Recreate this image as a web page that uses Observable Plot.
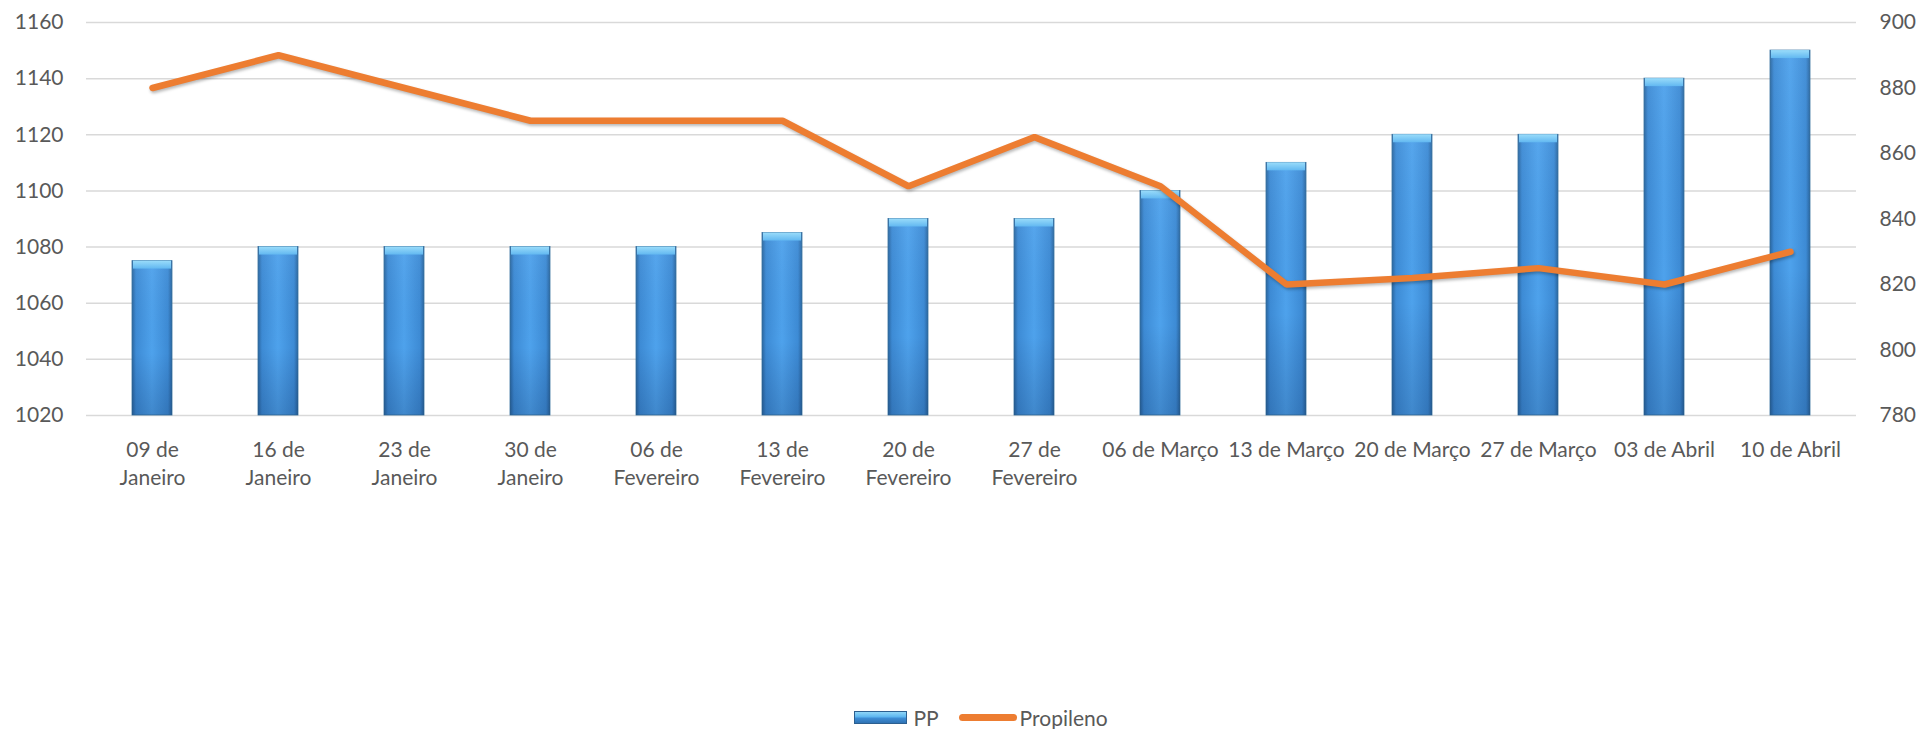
<!DOCTYPE html>
<html>
<head>
<meta charset="utf-8">
<script src="https://cdn.jsdelivr.net/npm/d3@7"></script>
<script src="https://cdn.jsdelivr.net/npm/@observablehq/plot@0.6"></script>
<style>
  html, body { margin: 0; padding: 0; background: #fff; overflow: hidden; }
  body { width: 1918px; height: 729px; font-family: Lato, "Open Sans", sans-serif; }
  #legend { height: 29px; display: flex; align-items: center; justify-content: center; padding-left: 44px;
    font-size: 21px; color: #595959; font-family: Lato, sans-serif; margin-top: 3px; }
  .sw-bar { width: 53px; height: 13px; border: 1px solid #2c5f90; box-sizing: border-box;
    background: linear-gradient(to bottom, #8fd6f8 0%, #5cb5ef 45%, #3f8ed6 55%, #2f73b4 100%); margin-right: 6px; }
  .sw-line { width: 58px; height: 7px; border-radius: 4px; background: #ED7D31; margin-right: 3px; margin-left: 20px; }
  g[aria-label="line"] path { filter: drop-shadow(1px 2px 1.5px rgba(0,0,0,0.28)); }
</style>
</head>
<body>
<div id="chart"></div>
<div id="legend"><div class="sw-bar"></div><span>PP</span><div class="sw-line"></div><span>Propileno</span></div>
<script>
const categories = ["09 de Janeiro", "16 de Janeiro", "23 de Janeiro", "30 de Janeiro", "06 de Fevereiro", "13 de Fevereiro", "20 de Fevereiro", "27 de Fevereiro", "06 de Março", "13 de Março", "20 de Março", "27 de Março", "03 de Abril", "10 de Abril"];
const ppValues = [1075, 1080, 1080, 1080, 1080, 1085, 1090, 1090, 1100, 1110, 1120, 1120, 1140, 1150];
const propilenoValues = [880, 890, 880, 870, 870, 870, 850, 865, 850, 820, 822, 825, 820, 830];
const leftTicks = [1020, 1040, 1060, 1080, 1100, 1120, 1140, 1160];
const rightTicks = [780, 800, 820, 840, 860, 880, 900];

const leftDomain = [1020, 1160];
const rightDomain = [780, 900];
const toLeft = v => leftDomain[0] + (v - rightDomain[0]) * (leftDomain[1] - leftDomain[0]) / (rightDomain[1] - rightDomain[0]);
const toRight = v => rightDomain[0] + (v - leftDomain[0]) * (rightDomain[1] - rightDomain[0]) / (leftDomain[1] - leftDomain[0]);

const pp = categories.map((c, i) => ({cat: c, v: ppValues[i]}));
const prop = categories.map((c, i) => ({cat: c, v: toLeft(propilenoValues[i])}));

const wrap = s => s.length > 12 ? s.replace(/^(\S+ de) /, "$1\n") : s;

const defs = () => {
  const d = d3.create("svg:defs");
  const g1 = d.append("linearGradient").attr("id", "barH").attr("x1", 0).attr("x2", 1).attr("y1", 0).attr("y2", 0);
  [[0, "#2a66a0"], [0.1, "#3d8bd5"], [0.5, "#4ea2ec"], [0.9, "#3d8bd5"], [1, "#2a66a0"]]
    .forEach(([o, c]) => g1.append("stop").attr("offset", o).attr("stop-color", c));
  const g2 = d.append("linearGradient").attr("id", "barV").attr("x1", 0).attr("x2", 0).attr("y1", 0).attr("y2", 1);
  [[0, "rgba(255,255,255,0.05)"], [0.6, "rgba(0,0,40,0)"], [1, "rgba(0,20,60,0.18)"]]
    .forEach(([o, c]) => g2.append("stop").attr("offset", o).attr("stop-color", c));
  const g3 = d.append("linearGradient").attr("id", "cap").attr("x1", 0).attr("x2", 0).attr("y1", 0).attr("y2", 1);
  [[0, "#9adcfa"], [1, "#62b8f1"]]
    .forEach(([o, c]) => g3.append("stop").attr("offset", o).attr("stop-color", c));
  return d.node();
};

const chart = Plot.plot({
  width: 1918,
  height: 700,
  marginLeft: 86,
  marginRight: 62,
  marginTop: 22,
  marginBottom: 285,
  style: {fontFamily: "Lato, sans-serif", fontSize: "21px", color: "#595959", background: "#fff"},
  x: {domain: categories, paddingInner: 0.685, paddingOuter: 0.3425, label: null},
  y: {domain: leftDomain, label: null},
  marks: [
    defs,
    Plot.ruleY(leftTicks, {stroke: "#d9d9d9", strokeWidth: 1.5}),
    Plot.barY(pp, {x: "cat", y1: leftDomain[0], y2: "v", fill: "url(#barH)", stroke: "#35709f", strokeWidth: 0.8}),
    Plot.barY(pp, {x: "cat", y1: leftDomain[0], y2: "v", fill: "url(#barV)"}),
    Plot.barY(pp, {x: "cat", y1: "v", y2: "v", insetBottom: -8, insetLeft: 1, insetRight: 1, fill: "url(#cap)"}),
    Plot.line(prop, {x: "cat", y: "v", stroke: "#ED7D31", strokeWidth: 6.5, strokeLinejoin: "miter", strokeLinecap: "round"}),
    Plot.axisY(leftTicks, {anchor: "left", tickSize: 0, tickPadding: 23, fontSize: 21, fill: "#595959", label: null, tickFormat: d => String(d)}),
    Plot.axisY(rightTicks.map(toLeft), {anchor: "right", tickSize: 0, tickPadding: 23, fontSize: 21, fill: "#595959", label: null, tickFormat: v => String(Math.round(toRight(v))), textAnchor: "start"}),
    Plot.axisX({anchor: "bottom", tickSize: 0, tickPadding: 22, fontSize: 21, fill: "#595959", label: null, tickFormat: wrap, lineHeight: 1.32})
  ]
});
document.getElementById("chart").appendChild(chart);
</script>
</body>
</html>
